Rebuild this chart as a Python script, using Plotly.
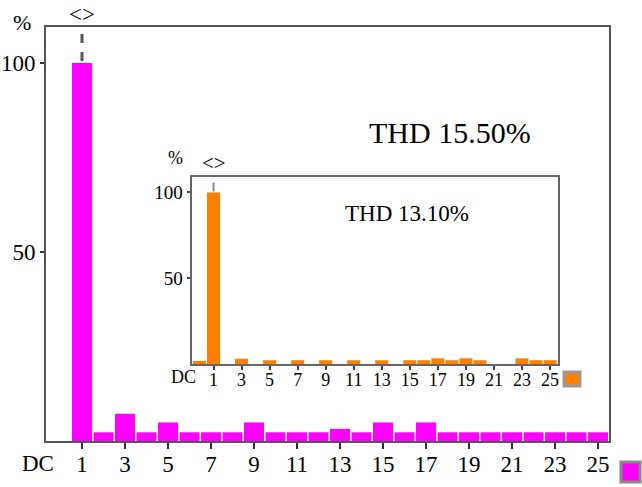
import plotly.graph_objects as go

W, H = 642, 487

# Harmonic orders (0 = DC)
orders = list(range(0, 26))

# Main spectrum, percent of fundamental
main_vals = [0, 100, 2.3, 7.2, 2.3, 4.9, 2.3, 2.3, 2.3, 4.9, 2.3, 2.3, 2.3, 3.2,
             2.3, 4.9, 2.3, 4.9, 2.3, 2.3, 2.3, 2.3, 2.3, 2.3, 2.3, 2.3]

# Inset spectrum, percent of fundamental
inset_vals = [1.8, 100, 0, 3.1, 0, 2.2, 0, 2.2, 0, 2.2, 0, 2.2, 0, 2.2,
              0, 2.2, 2.2, 3.3, 2.2, 3.3, 2.2, 0, 0, 3.3, 2.2, 2.2]

odd_ticks = list(range(1, 26, 2))
odd_text = [str(v) for v in odd_ticks]
y_ticks = [50, 100]

main_thd = "THD 15.50%"
inset_thd = "THD 13.10%"

MAGENTA = "#ff00ff"
ORANGE = "#ff7f00"
SERIF = "Liberation Serif"


def px_x(p):
    return p / W


def px_y(p):
    return (H - p) / H


fig = go.Figure()
fig.add_trace(go.Bar(x=orders, y=main_vals, marker=dict(color=MAGENTA, line=dict(width=0)),
                     xaxis="x", yaxis="y", width=0.93))
fig.add_trace(go.Bar(x=orders, y=inset_vals, marker=dict(color=ORANGE, line=dict(width=0)),
                     xaxis="x2", yaxis="y2", width=0.93))

fig.update_layout(
    width=W, height=H,
    margin=dict(l=0, r=0, t=0, b=0),
    paper_bgcolor="white", plot_bgcolor="white",
    showlegend=False,
    bargap=0.07,
    xaxis=dict(domain=[px_x(46), px_x(609)], range=[-0.674, 25.51],
               tickvals=odd_ticks, ticktext=odd_text, ticks="outside", ticklen=6,
               tickwidth=2, tickcolor="#333", showgrid=False, zeroline=False,
               showline=True, linecolor="#555", linewidth=2, mirror=True,
               ticklabelstandoff=-5,
               tickfont=dict(family=SERIF, size=23, color="black")),
    yaxis=dict(domain=[px_y(441), px_y(27)], range=[0, 109.5],
               tickvals=y_ticks, ticks="outside", ticklen=4, tickwidth=2,
               tickcolor="#333", showgrid=False, zeroline=False,
               showline=True, linecolor="#555", linewidth=2, mirror=True,
               tickfont=dict(family=SERIF, size=23, color="black")),
    xaxis2=dict(domain=[px_x(191.5), px_x(558)], range=[-0.57, 25.57], anchor="y2",
                tickvals=odd_ticks, ticktext=odd_text, ticks="outside", ticklen=4,
                tickwidth=1.5, tickcolor="#444", showgrid=False, zeroline=False,
                showline=True, linecolor="#666", linewidth=2, mirror=True,
                ticklabelstandoff=-6,
                tickfont=dict(family=SERIF, size=18, color="black")),
    yaxis2=dict(domain=[px_y(364), px_y(177)], range=[0, 109], anchor="x2",
                tickvals=y_ticks, ticks="outside", ticklen=3, tickwidth=1.5,
                tickcolor="#444", showgrid=False, zeroline=False,
                showline=True, linecolor="#666", linewidth=2, mirror=True,
                tickfont=dict(family=SERIF, size=19, color="black")),
)

# Dashed markers above the fundamental
fig.add_shape(type="line", xref="x", yref="y", x0=1, x1=1, y0=main_vals[1] + 0.5, y1=109.5,
              line=dict(color="#555", width=3, dash="dash"))
fig.add_shape(type="line", xref="x2", yref="y2", x0=1, x1=1, y0=inset_vals[1] + 0.5, y1=109,
              line=dict(color="#888", width=2, dash="dash"))

# Legend swatches
fig.add_shape(type="rect", xref="paper", yref="paper",
              x0=px_x(621), x1=px_x(640), y0=px_y(482), y1=px_y(462),
              fillcolor=MAGENTA, line=dict(color="#888", width=3))
fig.add_shape(type="rect", xref="paper", yref="paper",
              x0=px_x(564), x1=px_x(580), y0=px_y(386), y1=px_y(372),
              fillcolor=ORANGE, line=dict(color="#999", width=3))

ann = [
    dict(text="%", xref="paper", yref="paper", x=px_x(22), y=px_y(22), size=22),
    dict(text="&lt;&gt;", xref="x", yref="paper", x=1, y=px_y(15), size=23),
    dict(text="DC", xref="paper", yref="paper", x=px_x(38), y=px_y(463), size=23),
    dict(text=main_thd, xref="paper", yref="paper", x=px_x(450), y=px_y(132), size=30),
    dict(text="%", xref="paper", yref="paper", x=px_x(176), y=px_y(158), size=18),
    dict(text="&lt;&gt;", xref="x2", yref="paper", x=1, y=px_y(163), size=21),
    dict(text="DC", xref="paper", yref="paper", x=px_x(184), y=px_y(377), size=18),
    dict(text=inset_thd, xref="paper", yref="paper", x=px_x(407), y=px_y(213), size=23),
]
for a in ann:
    fig.add_annotation(text=a["text"], xref=a["xref"], yref=a["yref"], x=a["x"], y=a["y"],
                       xanchor="center", yanchor="middle", showarrow=False,
                       font=dict(family=SERIF, size=a["size"], color="black"))

fig.write_html("out.html")
